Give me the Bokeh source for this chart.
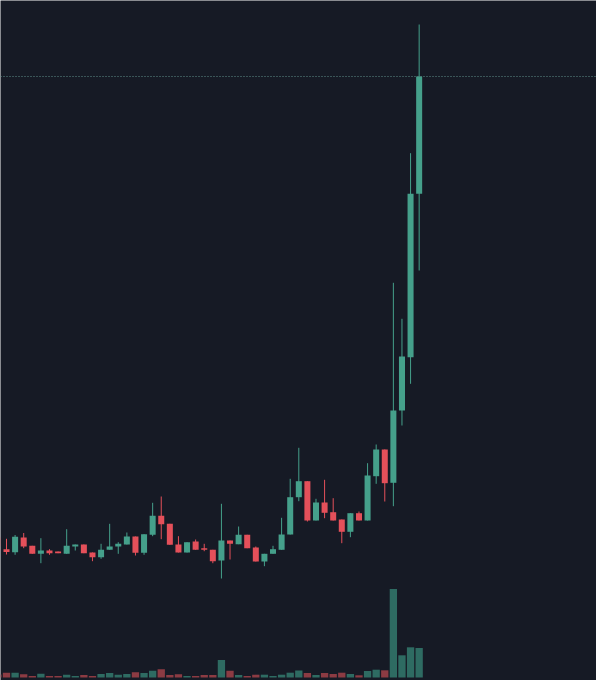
from bokeh.plotting import figure
from bokeh.models import Range1d, Span, ColumnDataSource
from bokeh.embed import file_html
from bokeh.resources import INLINE

# candle index
idx = list(range(50))

opens = [0.83, 0.713, 0.683, 0.83, 0.747, 0.667, 0.70, 0.69, 0.667, 0.74,
         0.76, 0.68, 0.633, 0.707, 0.74, 0.76, 0.84, 0.677, 0.857, 1.047,
         0.967, 0.76, 0.68, 0.79, 0.723, 0.707, 0.60, 0.80, 0.763, 0.857,
         0.73, 0.59, 0.667, 0.707, 0.86, 1.233, 1.393, 1.00, 1.18, 1.083,
         1.01, 0.887, 1.073, 1.00, 1.443, 1.71, 1.377, 2.10, 2.633, 4.267]
highs = [0.85, 0.817, 0.855, 0.875, 0.747, 0.823, 0.713, 0.69, 0.913, 0.76,
         0.76, 0.68, 0.767, 0.967, 0.783, 0.88, 0.84, 0.863, 1.177, 1.24,
         0.967, 0.843, 0.783, 0.81, 0.767, 0.707, 1.167, 0.80, 0.94, 0.857,
         0.74, 0.667, 0.747, 1.027, 1.417, 1.727, 1.393, 1.217, 1.407, 1.223,
         1.01, 1.073, 1.09, 1.573, 1.76, 1.71, 3.377, 3.017, 4.673, 5.96]
lows = [0.72, 0.66, 0.657, 0.723, 0.667, 0.573, 0.657, 0.673, 0.667, 0.70,
        0.673, 0.593, 0.617, 0.707, 0.667, 0.76, 0.65, 0.657, 0.843, 0.813,
        0.757, 0.68, 0.68, 0.707, 0.693, 0.573, 0.42, 0.61, 0.763, 0.723,
        0.59, 0.543, 0.667, 0.707, 0.86, 1.193, 0.99, 1.00, 1.023, 1.00,
        0.773, 0.833, 1.00, 1.00, 1.367, 1.19, 1.143, 1.95, 2.367, 3.50]
closes = [0.74, 0.685, 0.837, 0.74, 0.667, 0.70, 0.673, 0.673, 0.747, 0.76,
          0.673, 0.633, 0.707, 0.74, 0.767, 0.84, 0.677, 0.863, 1.047, 0.963,
          0.757, 0.68, 0.783, 0.707, 0.707, 0.593, 0.80, 0.767, 0.857, 0.723,
          0.59, 0.667, 0.713, 0.86, 1.233, 1.393, 1.00, 1.18, 1.077, 1.00,
          0.887, 1.073, 1.00, 1.45, 1.71, 1.373, 2.10, 2.64, 4.267, 5.44]
volumes = [0.30, 0.48, 0.48, 0.32, 0.15, 0.38, 0.15, 0.15, 0.28, 0.15,
           0.25, 0.15, 0.35, 0.45, 0.28, 0.35, 0.52, 0.45, 0.68, 0.82,
           0.25, 0.32, 0.15, 0.15, 0.25, 0.25, 1.75, 0.68, 0.25, 0.15,
           0.28, 0.28, 0.15, 0.28, 0.48, 0.70, 0.45, 0.25, 0.45, 0.35,
           0.48, 0.35, 0.22, 0.65, 0.78, 0.72, 8.85, 2.22, 3.02, 2.95]

UP = "#45a08b"
DOWN = "#e4505a"
VOL_UP = "#2e6b62"
VOL_DOWN = "#8c3b43"
BG = "#161a25"

is_up = [c >= o for o, c in zip(opens, closes)]
src = ColumnDataSource(dict(
    x=idx,
    top=[max(o, c) for o, c in zip(opens, closes)],
    bottom=[min(o, c) for o, c in zip(opens, closes)],
    high=highs,
    low=lows,
    vol=volumes,
    color=[UP if u else DOWN for u in is_up],
    vcolor=[VOL_UP if u else VOL_DOWN for u in is_up],
))

p = figure(width=596, height=680, output_backend="svg", toolbar_location=None,
           x_range=Range1d(0.302, 69.628), y_range=Range1d(-0.6, 6.2),
           x_axis_location=None, y_axis_location=None, min_border=0,
           background_fill_color=BG, border_fill_color=BG,
           outline_line_color=None)
p.xgrid.visible = False
p.ygrid.visible = False
p.styles = {"position": "fixed", "left": "0px", "top": "0px"}

p.extra_y_ranges = {"vol": Range1d(-0.3, 67.7)}

p.vbar(x="x", top="vol", bottom=0, width=0.85, fill_color="vcolor",
       line_color=None, y_range_name="vol", source=src)
p.segment(x0="x", y0="low", x1="x", y1="high", line_color="color",
          line_width=1, source=src)
p.vbar(x="x", top="top", bottom="bottom", width=0.7, fill_color="color",
       line_color=None, source=src)

p.add_layout(Span(location=closes[-1], dimension="width", line_color="#5e8f8a",
                  line_width=1, line_dash="1 2"))

open("out.html", "w").write(file_html(p, INLINE))
